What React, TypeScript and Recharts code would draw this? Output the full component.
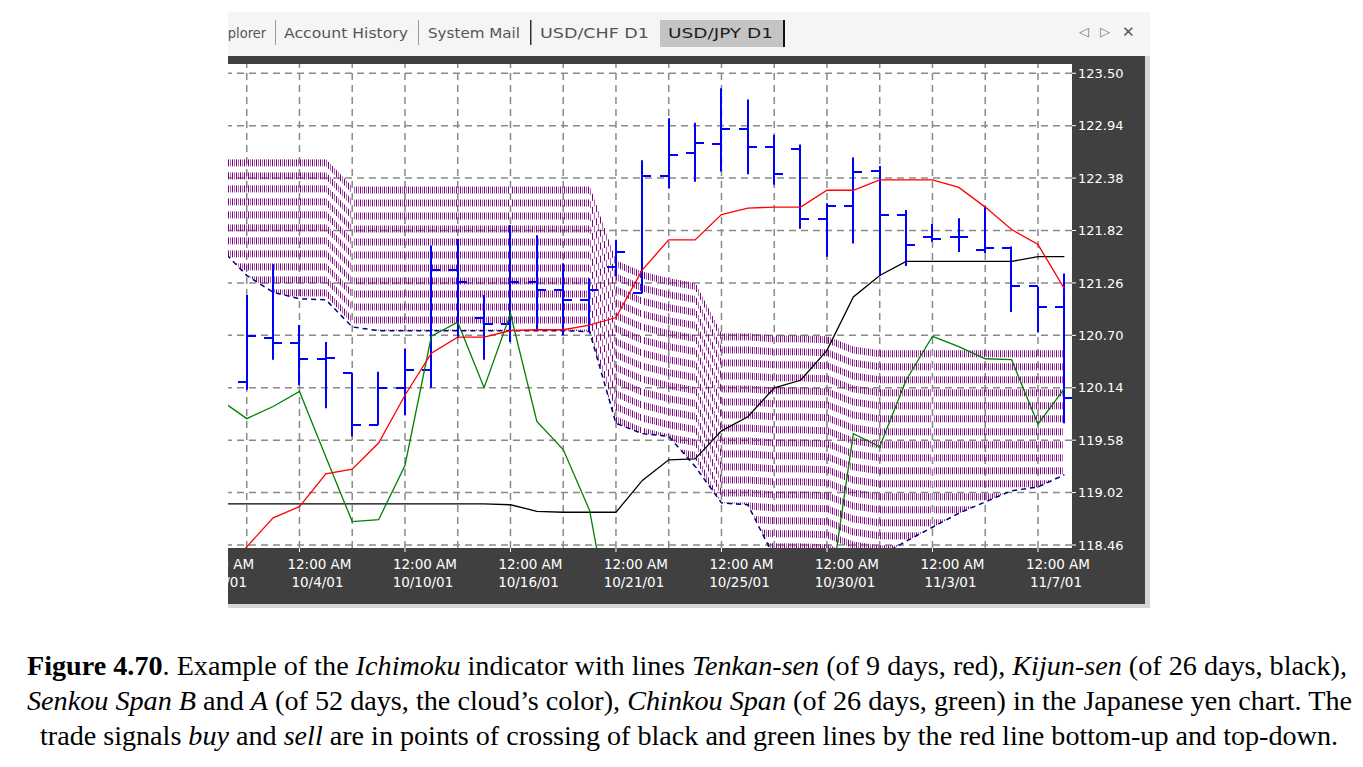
import React from "react";
import { ComposedChart, Bar, Line, XAxis, YAxis, ReferenceLine } from "recharts";

// bar numbers on the USD/JPY D1 chart (bar 0 is the first full bar at the left edge)
const barNo = [-1, 0, 1, 2, 3, 4, 5, 6, 7, 8, 9, 10, 11, 12, 13, 14, 15, 16, 17, 18, 19, 20, 21, 22, 23, 24, 25, 26, 27, 28, 29, 30, 31];

const open = [null, 120.2, 120.67, 120.62, 120.45, 120.3, 119.74, 120.14, 120.33, 121.4, 120.89, 120.82, 121.27, 121.18, 121.08, 121.43, 121.15, 122.4, 122.65, 122.74, 122.9, 122.71, 122.69, 121.94, 122.08, 122.46, 121.99, 121.75, 121.75, 121.61, 121.63, 121.23, 121.0];
const high = [null, 121.13, 121.46, 120.81, 120.63, 120.3, 120.31, 120.56, 121.66, 121.73, 121.13, 121.88, 121.77, 121.47, 121.31, 121.72, 122.57, 123.02, 122.97, 123.34, 123.22, 122.84, 122.74, 122.11, 122.6, 122.51, 122.04, 121.89, 121.95, 122.08, 121.65, 121.22, 121.36];
const low = [null, 120.12, 120.44, 120.17, 119.92, 119.62, 119.74, 119.85, 120.14, 120.67, 120.44, 120.63, 120.76, 120.7, 120.74, 121.33, 121.15, 122.27, 122.34, 122.45, 122.42, 122.31, 121.84, 121.54, 121.68, 121.34, 121.44, 121.7, 121.59, 121.58, 120.95, 120.73, 119.76];
const close = [null, 120.69, 120.62, 120.45, 120.46, 119.74, 120.14, 120.33, 121.4, 121.27, 120.82, 121.27, 121.18, 121.08, 121.18, 121.59, 122.4, 122.63, 122.76, 122.9, 122.71, 122.42, 121.94, 122.08, 122.44, 121.99, 121.67, 121.73, 121.75, 121.63, 121.23, 121.0, 120.03];

// Tenkan-sen (red), Kijun-sen (black), Chinkou Span (green)
const tenkan = [118.1, 118.44, 118.75, 118.87, 119.22, 119.27, 119.55, 120.06, 120.51, 120.68, 120.68, 120.75, 120.76, 120.76, 120.81, 120.89, 121.4, 121.72, 121.72, 121.99, 122.06, 122.07, 122.07, 122.25, 122.25, 122.36, 122.36, 122.36, 122.28, 122.07, 121.83, 121.67, 121.2];
const kijun = [118.9, 118.9, 118.9, 118.9, 118.9, 118.9, 118.9, 118.9, 118.9, 118.9, 118.9, 118.89, 118.82, 118.81, 118.81, 118.81, 119.15, 119.37, 119.38, 119.68, 119.83, 120.14, 120.22, 120.54, 121.11, 121.34, 121.49, 121.49, 121.49, 121.49, 121.49, 121.54, 121.54];
const chinkou = [120.01, 119.81, 119.94, 120.1, 119.4, 118.71, 118.73, 119.31, 120.69, 120.84, 120.14, 120.93, 119.78, 119.48, 118.83, 117.31, 117.1, 117.0, 117.2, 117.1, 117.3, 117.4, 117.6, 117.71, 119.65, 119.51, 120.22, 120.69, 120.58, 120.45, 120.44, 119.75, 120.13];

// Senkou Span cloud: upper and lower edge
const senkouUpper = [122.58, 122.58, 122.58, 122.58, 122.58, 122.29, 122.29, 122.29, 122.29, 122.29, 122.29, 122.29, 122.29, 122.29, 122.29, 121.5, 121.38, 121.31, 121.26, 120.72, 120.72, 120.7, 120.7, 120.69, 120.58, 120.54, 120.54, 120.54, 120.54, 120.54, 120.54, 120.54, 120.54];
const senkouLower = [121.63, 121.34, 121.16, 121.09, 121.08, 120.79, 120.75, 120.75, 120.75, 120.75, 120.75, 120.75, 120.75, 120.75, 120.74, 119.76, 119.65, 119.62, 119.3, 118.91, 118.89, 118.33, 118.2, 118.1, 118.2, 118.34, 118.5, 118.65, 118.8, 118.92, 119.04, 119.08, 119.21];

const priceTicks = [118.46, 119.02, 119.58, 120.14, 120.7, 121.26, 121.82, 122.38, 122.94, 123.5];
const gridBars = [0, 2, 4, 6, 8, 10, 12, 14, 16, 18, 20, 22, 24, 26, 28, 30];
const labelBars = [2, 6, 10, 14, 18, 22, 26, 30];
const labelDates = ["10/4/01", "10/10/01", "10/16/01", "10/21/01", "10/25/01", "10/30/01", "11/3/01", "11/7/01"];
const firstDate = "10/1/01";
const timeOfDay = "12:00 AM";

const X_MIN = -0.71;
const X_MAX = 31.29;
const Y_MIN = 118.428;
const Y_MAX = 123.599;

const rows = barNo.map((bar, i) => ({
  bar,
  open: open[i],
  high: high[i],
  low: low[i],
  close: close[i],
  tenkan: tenkan[i],
  kijun: kijun[i],
  chinkou: chinkou[i],
  senkouUpper: senkouUpper[i],
  senkouLower: senkouLower[i],
}));

const axisFont = "'DejaVu Sans', sans-serif";
const gridStyle = { stroke: "#8a8a8a", strokeWidth: 1.5, strokeDasharray: "7 5" };

const ohlcRange = (d: any) => (d.high == null ? null : [d.low, d.high]);
const cloudRange = (d: any) => [d.senkouLower, d.senkouUpper];

function OhlcShape(props: any) {
  const { x, y, width, height, payload } = props;
  if (payload.high == null || !height) return null;
  const top = Math.min(y, y + height);
  const bottom = Math.max(y, y + height);
  const k = (bottom - top) / (payload.high - payload.low);
  const cx = Math.round(x + width / 2);
  const oy = Math.round(top + (payload.high - payload.open) * k);
  const cy = Math.round(top + (payload.high - payload.close) * k);
  return (
    <g stroke="#0000ff" strokeWidth={2}>
      <line x1={cx} x2={cx} y1={top} y2={bottom} />
      <line x1={cx - 9} x2={cx} y1={oy} y2={oy} />
      <line x1={cx} x2={cx + 9} y1={cy} y2={cy} />
    </g>
  );
}

// MT4 draws the cloud as dotted vertical hatching between the two spans
function CloudShape(props: any) {
  const { x, y, width, height, index, background, payload } = props;
  const next = rows[index + 1];
  if (!next || !width) return null;
  let yOf: (v: number) => number;
  if (background && background.height) {
    yOf = (v) => background.y + ((Y_MAX - v) / (Y_MAX - Y_MIN)) * background.height;
  } else {
    const top = Math.min(y, y + height);
    const k = Math.abs(height) / (payload.senkouUpper - payload.senkouLower);
    yOf = (v) => top + (payload.senkouUpper - v) * k;
  }
  const x0 = x + width / 2;
  const step = width;
  const cols = [];
  for (let px = Math.ceil(x0 / 2) * 2; px < x0 + step; px += 2) {
    const t = (px - x0) / step;
    const up = payload.senkouUpper + (next.senkouUpper - payload.senkouUpper) * t;
    const lo = payload.senkouLower + (next.senkouLower - payload.senkouLower) * t;
    cols.push(
      <line
        key={px}
        x1={px + 0.5}
        x2={px + 0.5}
        y1={yOf(up)}
        y2={yOf(lo)}
        stroke="#800080"
        strokeOpacity={(px / 2) % 2 === 0 ? 1 : 0.6}
        strokeWidth={1}
        strokeDasharray="7 6"
      />
    );
  }
  return <g>{cols}</g>;
}

function TimeTick(props: any) {
  const { x, y, payload } = props;
  const k = labelBars.indexOf(payload.value);
  const date = k >= 0 ? labelDates[k] : firstDate;
  const tx = k >= 0 ? x + 20 : x - 6;
  const dx = k >= 0 ? x + 18 : x - 7;
  return (
    <g>
      {k >= 0 && <line x1={x} x2={x} y1={y} y2={y + 4} stroke="#ffffff" />}
      <text x={tx} y={y + 21} textAnchor="middle" fill="#ffffff" fontSize={13.5} fontFamily={axisFont}>
        {timeOfDay}
      </text>
      <text x={dx} y={y + 39} textAnchor="middle" fill="#ffffff" fontSize={13.5} fontFamily={axisFont}>
        {date}
      </text>
    </g>
  );
}

function PriceChart() {
  return (
    <ComposedChart
      width={917}
      height={548}
      data={rows}
      margin={{ top: 0, right: 0, bottom: 0, left: 0 }}
      barCategoryGap="0%"
      barGap={0}
    >
      <XAxis
        dataKey="bar"
        type="number"
        domain={[X_MIN, X_MAX]}
        allowDataOverflow
        ticks={[X_MIN, ...labelBars]}
        interval={0}
        tick={<TimeTick />}
        tickLine={false}
        axisLine={false}
        tickSize={0}
        tickMargin={0}
        height={56}
      />
      <XAxis
        xAxisId="top"
        orientation="top"
        dataKey="bar"
        type="number"
        domain={[X_MIN, X_MAX]}
        allowDataOverflow
        ticks={gridBars}
        interval={0}
        tick={false}
        tickSize={5}
        tickLine={{ stroke: "#c8c8c8" }}
        axisLine={false}
        height={8}
      />
      <XAxis xAxisId="cloud" dataKey="bar" type="number" domain={[X_MIN, X_MAX]} allowDataOverflow ticks={barNo} hide />
      <YAxis
        orientation="right"
        type="number"
        domain={[Y_MIN, Y_MAX]}
        allowDataOverflow
        ticks={priceTicks}
        interval={0}
        width={73}
        axisLine={false}
        tickLine={{ stroke: "#ffffff" }}
        tickSize={4}
        tickMargin={2}
        tick={{ fill: "#ffffff", fontSize: 13, fontFamily: axisFont }}
        tickFormatter={(v: number) => v.toFixed(2)}
      />
      {gridBars.map((b) => (
        <ReferenceLine key={`gx${b}`} x={b} {...gridStyle} zIndex={-100} />
      ))}
      {priceTicks.map((v) => (
        <ReferenceLine key={`gy${v}`} y={v} {...gridStyle} zIndex={-100} />
      ))}
      <Bar xAxisId="cloud" dataKey={cloudRange} shape={<CloudShape />} isAnimationActive={false} />
      <Bar dataKey={ohlcRange} barSize={2} shape={<OhlcShape />} isAnimationActive={false} />
      <Line dataKey="senkouLower" stroke="#000080" strokeWidth={1.5} strokeDasharray="5 4" dot={false} isAnimationActive={false} />
      <Line dataKey="kijun" stroke="#000000" strokeWidth={1.3} dot={false} isAnimationActive={false} />
      <Line dataKey="chinkou" stroke="#008000" strokeWidth={1.3} dot={false} isAnimationActive={false} />
      <Line dataKey="tenkan" stroke="#ff0000" strokeWidth={1.3} dot={false} isAnimationActive={false} />
    </ComposedChart>
  );
}

function TabStrip() {
  const t = { fontFamily: axisFont, fontSize: 13.5, fill: "#555555" };
  return (
    <svg style={{ position: "absolute", left: 0, top: 0 }} width={922} height={44}>
      <text x={-16} y={26} textLength={54} lengthAdjust="spacingAndGlyphs" {...t}>Explorer</text>
      <rect x={47} y={8} width={1} height={25} fill="#9a9a9a" />
      <text x={56} y={26} textLength={124} lengthAdjust="spacingAndGlyphs" {...t}>Account History</text>
      <rect x={190} y={8} width={1} height={25} fill="#9a9a9a" />
      <text x={200} y={26} textLength={92} lengthAdjust="spacingAndGlyphs" {...t}>System Mail</text>
      <rect x={302} y={8} width={1.5} height={25} fill="#333" />
      <text x={312} y={26} textLength={109} lengthAdjust="spacingAndGlyphs" {...t}>USD/CHF D1</text>
      <rect x={432} y={8} width={123} height={27} fill="#c4c4c4" />
      <rect x={555} y={8} width={2} height={27} fill="#111" />
      <text x={440} y={26} textLength={105} lengthAdjust="spacingAndGlyphs" {...t} fill="#1e1e1e">USD/JPY D1</text>
      <text x={851} y={24} fontFamily={axisFont} fontSize={13} fill="#777">◁</text>
      <text x={872} y={24} fontFamily={axisFont} fontSize={13} fill="#777">▷</text>
      <text x={894} y={25} fontFamily={axisFont} fontSize={15} fill="#555">✕</text>
    </svg>
  );
}

export default function App() {
  return (
    <div style={{ position: "relative", width: 1363, height: 767, margin: -8, background: "#ffffff", overflow: "hidden" }}>
      <div style={{ position: "absolute", left: 0, top: 0, width: 1, height: 767, background: "#000" }} />
      <div style={{ position: "absolute", left: 1360, top: 0, width: 1, height: 767, background: "#000" }} />

      {/* terminal window */}
      <div style={{ position: "absolute", left: 228, top: 12, width: 922, height: 596, overflow: "hidden", background: "#f5f5f5" }}>
        <TabStrip />
        <div style={{ position: "absolute", left: 0, top: 44, width: 917, height: 548, background: "#404040" }} />
        <div style={{ position: "absolute", left: 917, top: 44, width: 5, height: 552, background: "#d6d6d6" }} />
        <div style={{ position: "absolute", left: 0, top: 592, width: 922, height: 4, background: "#d6d6d6" }} />
        <div style={{ position: "absolute", left: 0, top: 52, width: 844, height: 484, background: "#ffffff" }} />
        <div style={{ position: "absolute", left: 0, top: 44, width: 917, height: 548, overflow: "hidden" }}>
          <PriceChart />
        </div>
      </div>

      {/* caption */}
      <svg style={{ position: "absolute", left: 0, top: 640 }} width={1363} height={127}>
        <g fontFamily="'Liberation Serif', 'Times New Roman', serif" fontSize={27} fill="#000" style={{ whiteSpace: "pre" }}>
          <text x={27} y={35} textLength={1320} lengthAdjust="spacingAndGlyphs">
            <tspan fontWeight="bold">Figure 4.70</tspan>. Example of the <tspan fontStyle="italic">Ichimoku</tspan> indicator with lines <tspan fontStyle="italic">Tenkan-sen</tspan> (of  9 days, red), <tspan fontStyle="italic">Kijun-sen</tspan> (of 26 days, black),
          </text>
          <text x={27} y={70} textLength={1325} lengthAdjust="spacingAndGlyphs">
            <tspan fontStyle="italic">Senkou Span B</tspan> and <tspan fontStyle="italic">A</tspan> (of 52 days, the cloud’s color), <tspan fontStyle="italic">Chinkou Span</tspan> (of 26 days, green) in the Japanese yen chart. The
          </text>
          <text x={40} y={105} textLength={1298} lengthAdjust="spacingAndGlyphs">
            trade signals <tspan fontStyle="italic">buy</tspan> and <tspan fontStyle="italic">sell</tspan> are in points of crossing of black and green lines by the red line bottom-up and top-down.
          </text>
        </g>
      </svg>
    </div>
  );
}
